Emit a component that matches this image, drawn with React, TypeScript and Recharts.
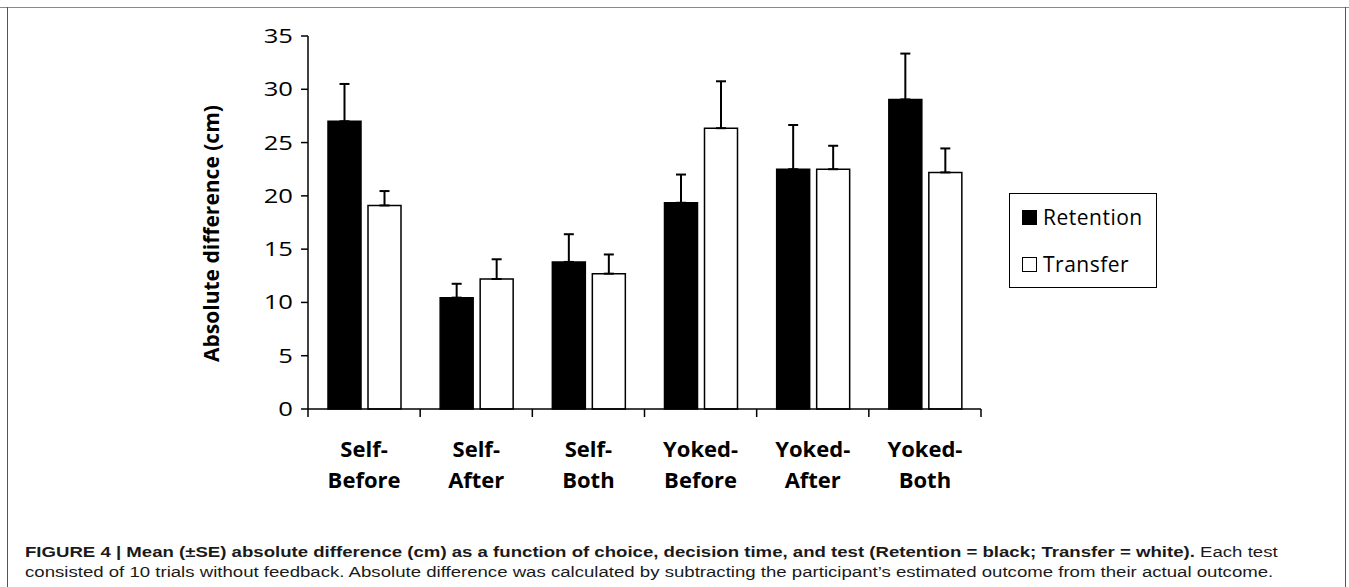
import { BarChart, Bar, XAxis, YAxis, ErrorBar, Label } from 'recharts';

const categories = ['Self-Before', 'Self-After', 'Self-Both', 'Yoked-Before', 'Yoked-After', 'Yoked-Both'];
const retention = [27.0, 10.45, 13.8, 19.35, 22.5, 29.05];
const retentionSE = [3.5, 1.3, 2.6, 2.65, 4.15, 4.3];
const transfer = [19.1, 12.2, 12.7, 26.35, 22.5, 22.2];
const transferSE = [1.35, 1.85, 1.8, 4.4, 2.2, 2.25];
const yTicks = [0, 5, 10, 15, 20, 25, 30, 35];
const seriesNames = ['Retention', 'Transfer'];
const seriesFills = ['#000', '#fff'];

const data = categories.map((name, i) => ({
  name,
  retention: retention[i],
  retentionErr: [0, retentionSE[i]],
  transfer: transfer[i],
  transferErr: [0, transferSE[i]],
}));

const FONT = '"Open Sans", sans-serif';

function CategoryTick(props: any) {
  const { x, y, payload } = props;
  const idx = payload.index ?? props.index;
  const half = payload.offset ?? 56;
  const label: string = payload.value;
  const cut = label.indexOf('-') + 1;
  return (
    <g>
      <line x1={x - half} y1={y} x2={x - half} y2={y + 8} stroke="#000" strokeWidth={1.5} />
      {idx === categories.length - 1 && (
        <line x1={x + half} y1={y} x2={x + half} y2={y + 8} stroke="#000" strokeWidth={1.5} />
      )}
      <text x={x} y={y + 48} textAnchor="middle" fontFamily={FONT} fontWeight={700} fontSize={22} fill="#000">
        {label.slice(0, cut)}
      </text>
      <text x={x} y={y + 79} textAnchor="middle" fontFamily={FONT} fontWeight={700} fontSize={22} fill="#000">
        {label.slice(cut)}
      </text>
    </g>
  );
}

// wide digits like the original's font
function ValueTick(props: any) {
  const { x, y, payload } = props;
  return (
    <text
      transform={`translate(${x}, ${y + 7}) scale(1.28, 1)`}
      textAnchor="end"
      fontFamily={FONT}
      fontSize={20}
      fill="#000"
    >
      {payload.value}
    </text>
  );
}

function YTitle(props: any) {
  const vb = props.viewBox;
  const cy = vb.y + vb.height / 2 + 11;
  return (
    <text
      x={219}
      y={cy}
      transform={`rotate(-90, 219, ${cy})`}
      textAnchor="middle"
      fontFamily={FONT}
      fontWeight={700}
      fontSize={21}
      fill="#000"
    >
      Absolute difference (cm)
    </text>
  );
}

export default function App() {
  return (
    <div
      style={{
        position: 'absolute',
        left: 0,
        top: 0,
        width: 1349,
        height: 587,
        background: '#fff',
        overflow: 'hidden',
      }}
    >
      <div style={{ position: 'absolute', left: 0, top: 7, width: 1349, height: 1, background: '#8a8a8a' }} />
      <div style={{ position: 'absolute', left: 7, top: 7, width: 1, height: 580, background: '#555' }} />
      <div style={{ position: 'absolute', left: 1345, top: 7, width: 1, height: 580, background: '#555' }} />

      <div style={{ position: 'absolute', left: 0, top: 0 }}>
        <BarChart
          width={1349}
          height={520}
          data={data}
          margin={{ top: 36, right: 368, bottom: 21, left: 208 }}
          barGap={7}
          barSize={33}
        >
          <XAxis
            dataKey="name"
            height={90}
            interval={0}
            tickLine={false}
            tickSize={0}
            tickMargin={0}
            axisLine={{ stroke: '#000', strokeWidth: 1.5 }}
            tick={<CategoryTick />}
          />
          <YAxis
            width={100}
            domain={[0, 35]}
            ticks={yTicks}
            interval={0}
            tickSize={7}
            tickMargin={8}
            axisLine={{ stroke: '#000', strokeWidth: 1.5 }}
            tickLine={{ stroke: '#000', strokeWidth: 1.5 }}
            tick={<ValueTick />}
          >
            <Label content={<YTitle />} />
          </YAxis>
          <Bar dataKey="retention" fill="#000" stroke="#000" strokeWidth={1.5} isAnimationActive={false}>
            <ErrorBar dataKey="retentionErr" direction="y" width={5} stroke="#000" strokeWidth={2} />
          </Bar>
          <Bar dataKey="transfer" fill="#fff" stroke="#000" strokeWidth={1.5} isAnimationActive={false}>
            <ErrorBar dataKey="transferErr" direction="y" width={5} stroke="#000" strokeWidth={2} />
          </Bar>
        </BarChart>
      </div>

      <div
        style={{
          position: 'absolute',
          left: 1009,
          top: 193,
          width: 148,
          height: 95,
          boxSizing: 'border-box',
          border: '1.5px solid #000',
          fontFamily: FONT,
          fontSize: 21,
          letterSpacing: 0.5,
          color: '#000',
        }}
      >
        {seriesNames.map((name, i) => (
          <div
            key={name}
            style={{ position: 'absolute', left: 12, top: 9 + i * 47, display: 'flex', alignItems: 'center', height: 28 }}
          >
            <div
              style={{
                width: 15,
                height: 15,
                boxSizing: 'border-box',
                border: '1.5px solid #000',
                background: seriesFills[i],
                marginRight: 6,
              }}
            />
            <span>{name}</span>
          </div>
        ))}
      </div>

      <div
        style={{
          position: 'absolute',
          left: 25,
          top: 542,
          fontFamily: '"Liberation Sans", Arial, sans-serif',
          fontSize: 15.5,
          lineHeight: '20px',
          color: '#1a1a1a',
          whiteSpace: 'nowrap',
          transform: 'scaleX(1.2)',
          transformOrigin: '0 0',
        }}
      >
        <b>
          FIGURE 4 | Mean (±SE) absolute difference (cm) as a function of choice, decision time, and test (Retention =
          black; Transfer = white).
        </b>{' '}
        Each test
        <br />
        consisted of 10 trials without feedback. Absolute difference was calculated by subtracting the participant’s
        estimated outcome from their actual outcome.
      </div>
    </div>
  );
}
